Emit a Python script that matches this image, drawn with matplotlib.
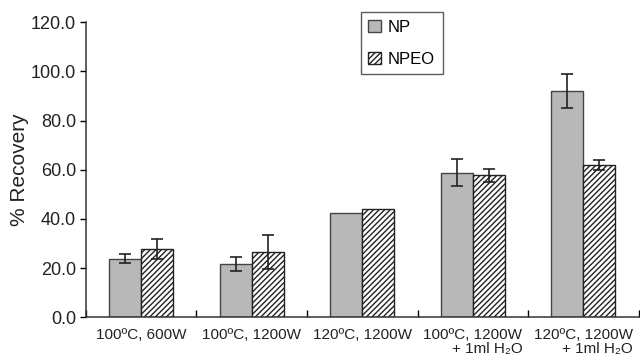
import matplotlib
matplotlib.use("Agg")
import matplotlib.pyplot as plt
import numpy as np

plt.rcParams['font.family'] = ['Liberation Sans', 'DejaVu Sans']
plt.rcParams['hatch.linewidth'] = 1.0

categories = ["100ºC, 600W", "100ºC, 1200W", "120ºC, 1200W",
              "100ºC, 1200W\n+ 1ml H₂O", "120ºC, 1200W\n+ 1ml H₂O"]
np_vals = [23.8, 21.7, 42.5, 58.8, 92.0]
np_err = [1.8, 3.0, 0.0, 5.5, 7.0]
npeo_vals = [27.8, 26.5, 44.0, 57.8, 61.8]
npeo_err = [4.0, 7.0, 0.0, 2.7, 2.0]
yticks = [0, 20, 40, 60, 80, 100, 120]

fig = plt.figure(figsize=(6.4, 3.59), dpi=100)
ax = fig.add_axes([0.134, 0.116, 0.864, 0.822])

x = np.arange(len(categories))
w = 0.29
errkw = dict(ecolor='#222222', elinewidth=1.2, capsize=4, capthick=1.2)
ax.bar(x - w/2, np_vals, w, color='#b8b8b8', edgecolor='#444444', linewidth=1.0,
       label='NP', zorder=2)
ax.bar(x + w/2, npeo_vals, w, color='white', edgecolor='#222222', hatch='//////',
       linewidth=1.0, label='NPEO', zorder=2)
for xi, v, e in zip(x - w/2, np_vals, np_err):
    if e > 0:
        ax.errorbar(xi, v, yerr=e, fmt='none', zorder=3, **errkw)
for xi, v, e in zip(x + w/2, npeo_vals, npeo_err):
    if e > 0:
        ax.errorbar(xi, v, yerr=e, fmt='none', zorder=3, **errkw)

ax.set_xlim(-0.5, len(categories) - 0.5)
ax.set_ylim(0, 120)
ax.set_yticks(yticks)
ax.set_yticklabels([f"{t:.1f}" for t in yticks], fontsize=13, color='#222222')
ax.set_xticks(np.arange(len(categories) + 1) - 0.5)
ax.set_xticklabels([])
ax.set_xticks(x, minor=True)
ax.set_xticklabels(categories, minor=True, fontsize=11, color='#222222',
                   linespacing=1.0, va='top')
ax.tick_params(axis='x', which='minor', length=0, pad=8)
ax.tick_params(axis='x', which='major', length=5, direction='in', width=1.0)
ax.tick_params(axis='y', length=4, direction='out', width=1.0, pad=3)
for lbl in ax.get_xticklabels(minor=True):
    lbl.set_horizontalalignment('center')
    lbl.set_multialignment('right')

ax.spines['top'].set_visible(False)
ax.spines['right'].set_visible(False)
ax.spines['left'].set_color('#333333')
ax.spines['bottom'].set_color('#333333')
ax.spines['left'].set_linewidth(1.1)
ax.spines['bottom'].set_linewidth(1.1)

ax.set_ylabel("% Recovery", fontsize=15, color='#222222', labelpad=1)

leg = ax.legend(loc='upper left', bbox_to_anchor=(0.497, 1.034), fontsize=12,
                frameon=True, fancybox=False, edgecolor='#333333',
                handlelength=0.8, handleheight=0.8, handletextpad=0.4,
                labelspacing=1.0, borderpad=0.45, borderaxespad=0)
leg.get_frame().set_linewidth(1.0)

fig.savefig("out.png", dpi=100)
